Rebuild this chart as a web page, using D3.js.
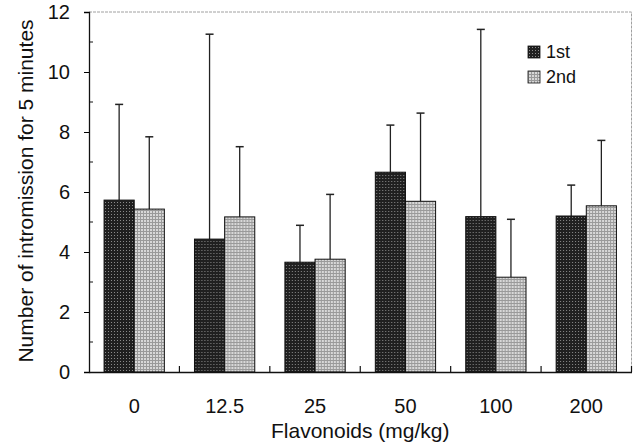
<!DOCTYPE html>
<html><head><meta charset="utf-8">
<script src="https://cdn.jsdelivr.net/npm/d3@7"></script>
<style>body{margin:0;background:#fff}svg{display:block}text{font-family:"Liberation Sans",Arial,sans-serif;fill:#111}</style>
</head><body>
<svg id="c" width="637" height="445"></svg>
<script>
const categories = ["0","12.5","25","50","100","200"];
const seriesNames = ["1st","2nd"];
const means1 = [5.73,4.43,3.66,6.66,5.18,5.2];
const errTop1 = [8.92,11.26,4.89,8.23,11.42,6.23];
const means2 = [5.43,5.17,3.76,5.69,3.16,5.54];
const errTop2 = [7.84,7.51,5.92,8.63,5.09,7.72];
const yTicks = [0,2,4,6,8,10,12];
const yMinor = [1,3,5,7,9,11];

const svg = d3.select("#c");
const L=89, R=631.5, T=12, B=372;
const defs = svg.append("defs");
const pd = defs.append("pattern").attr("id","pDark").attr("patternUnits","userSpaceOnUse").attr("width",3).attr("height",3);
pd.append("rect").attr("width",3).attr("height",3).attr("fill","#202020");
pd.append("rect").attr("x",1).attr("y",1).attr("width",1).attr("height",1).attr("fill","#8a8a8a");
const pl = defs.append("pattern").attr("id","pLight").attr("patternUnits","userSpaceOnUse").attr("width",3).attr("height",3);
pl.append("rect").attr("width",3).attr("height",3).attr("fill","#d8d8d8");
pl.append("rect").attr("width",3).attr("height",1).attr("fill","#9a9a9a");
pl.append("rect").attr("width",1).attr("height",3).attr("fill","#9a9a9a");
const fills = ["url(#pDark)","url(#pLight)"];

const x0 = d3.scaleBand().domain(categories).range([L,R]).padding(0);
const x1 = d3.scaleBand().domain(seriesNames).range([x0.bandwidth()/6, x0.bandwidth()*5/6]).padding(0);
const y = d3.scaleLinear().domain([0,12]).range([B,T]);

// frame (top/right dotted)
svg.append("path").attr("d",`M${L},${T}H${R}V${B}`).attr("fill","none").attr("stroke","#a0a0a0").attr("stroke-width",1).attr("stroke-dasharray","3,1");

const data = categories.map((c,i)=>({c, vals:[{s:"1st",v:means1[i],e:errTop1[i],k:0},{s:"2nd",v:means2[i],e:errTop2[i],k:1}]}));
const g = svg.selectAll("g.grp").data(data).join("g").attr("class","grp").attr("transform",d=>`translate(${x0(d.c)},0)`);
// error bars
g.selectAll("line.eb").data(d=>d.vals).join("line").attr("class","eb")
 .attr("x1",d=>x1(d.s)+x1.bandwidth()/2).attr("x2",d=>x1(d.s)+x1.bandwidth()/2)
 .attr("y1",d=>y(d.v)).attr("y2",d=>y(d.e)).attr("stroke","#222").attr("stroke-width",1.3);
g.selectAll("line.cap").data(d=>d.vals).join("line").attr("class","cap")
 .attr("x1",d=>x1(d.s)+x1.bandwidth()/2-4).attr("x2",d=>x1(d.s)+x1.bandwidth()/2+4)
 .attr("y1",d=>y(d.e)).attr("y2",d=>y(d.e)).attr("stroke","#222").attr("stroke-width",1.5);
g.selectAll("rect").data(d=>d.vals).join("rect")
 .attr("x",d=>x1(d.s)).attr("width",x1.bandwidth())
 .attr("y",d=>y(d.v)).attr("height",d=>y(0)-y(d.v))
 .attr("fill",d=>fills[d.k]).attr("stroke","#111").attr("stroke-width",1);

// y axis
const ya = svg.append("g").attr("transform",`translate(${L},0)`)
 .call(d3.axisLeft(y).tickValues(yTicks).tickSize(5).tickPadding(14).tickFormat(d3.format("d")));
ya.select(".domain").attr("stroke","#111").attr("stroke-width",1.3);
ya.selectAll("text").attr("font-size",20).attr("font-family","Liberation Sans, Arial, sans-serif").attr("fill","#111");
svg.append("g").selectAll("line").data(yMinor).join("line")
 .attr("x1",L).attr("x2",L+4).attr("y1",d=>y(d)).attr("y2",d=>y(d)).attr("stroke","#111");

// x axis
const xa = svg.append("g").attr("transform",`translate(0,${B})`)
 .call(d3.axisBottom(x0).tickSizeInner(0).tickSizeOuter(0).tickPadding(27));
xa.select(".domain").attr("stroke","#111").attr("stroke-width",1.3);
xa.selectAll("text").attr("font-size",20).attr("font-family","Liberation Sans, Arial, sans-serif").attr("fill","#111");
svg.append("g").selectAll("line").data(categories.slice(1).concat(["__end"])).join("line")
 .attr("x1",d=>d==="__end"?R:x0(d)).attr("x2",d=>d==="__end"?R:x0(d))
 .attr("y1",B).attr("y2",B-6).attr("stroke","#111").attr("stroke-width",1.2);

// titles
svg.append("text").attr("x",(L+R)/2).attr("y",438).attr("text-anchor","middle").attr("font-size",21).text("Flavonoids (mg/kg)");
svg.append("text").attr("transform",`translate(33,${(T+B)/2-1}) rotate(-90)`).attr("text-anchor","middle").attr("font-size",21).text("Number of intromission for 5 minutes");

// legend
const lg = svg.append("g").selectAll("g").data(seriesNames).join("g").attr("transform",(d,i)=>`translate(528,${46+i*25})`);
lg.append("rect").attr("width",12).attr("height",12).attr("fill",(d,i)=>fills[i]).attr("stroke","#111").attr("stroke-width",0.8);
lg.append("text").attr("x",18).attr("y",12).attr("font-size",18).text(d=>d);
</script>
</body></html>
